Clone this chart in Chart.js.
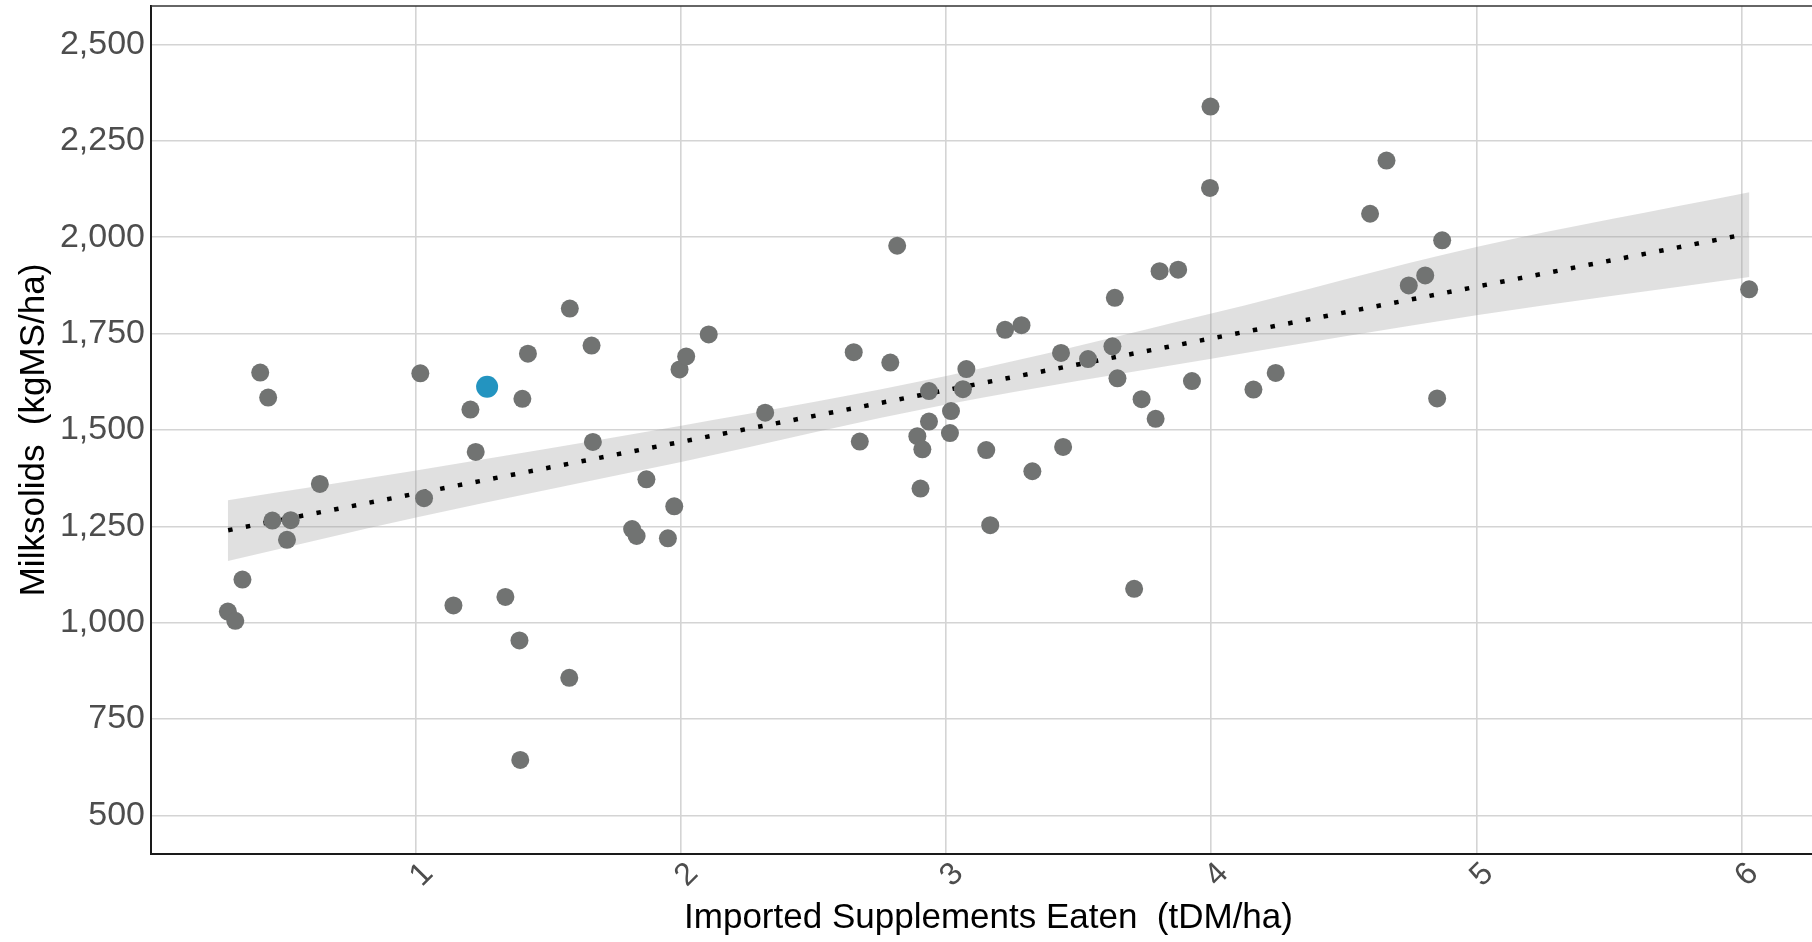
<!DOCTYPE html>
<html>
<head>
<meta charset="utf-8">
<script src="https://cdn.jsdelivr.net/npm/chart.js@4.4.1/dist/chart.umd.min.js"></script>
<style>
  html, body { margin: 0; padding: 0; background: #ffffff; overflow: hidden; }
  #wrap { width: 1812px; height: 942px; position: relative; overflow: hidden; }
  #c { position: absolute; left: 0; top: 0; }
</style>
</head>
<body>
<div id="wrap"><canvas id="c" width="1826" height="942"></canvas></div>
<script>
// ---- Data ----
const supplementsEaten = [
  0.290, 0.318, 0.345, 0.412, 0.442, 0.458, 0.527, 0.513, 0.637,
  1.016, 1.030, 1.141, 1.205, 1.225, 1.337, 1.390, 1.393, 1.401, 1.422,
  1.580, 1.578, 1.662, 1.667, 1.815, 1.832, 1.869, 1.950, 1.974, 1.994,
  2.019, 2.104, 2.317, 2.651, 2.674, 2.789, 2.815, 2.891, 2.910, 2.903,
  2.935, 2.935, 3.018, 3.014, 3.063, 3.076, 3.151, 3.166, 3.222, 3.284,
  3.325, 3.433, 3.441, 3.535, 3.627, 3.636, 3.646, 3.709, 3.737, 3.790,
  3.805, 3.875, 3.927, 3.997, 3.995, 4.159, 4.243, 4.599, 4.661, 4.745,
  4.807, 4.852, 4.871, 6.029
];
const milksolids = [
  1029, 1005, 1112, 1649, 1584, 1265, 1266, 1215, 1360,
  1647, 1323, 1045, 1553, 1443, 1067, 954, 644, 1581, 1698,
  1815, 857, 1719, 1469, 1243, 1225, 1372, 1219, 1302, 1657,
  1691, 1748, 1545, 1702, 1470, 1675, 1978, 1484, 1450, 1348,
  1601, 1522, 1549, 1492, 1606, 1658, 1448, 1253, 1760, 1772,
  1393, 1700, 1456, 1684, 1717, 1843, 1634, 1088, 1580, 1529,
  1912, 1916, 1627, 2339, 2128, 1605, 1648, 2061, 2199, 1875,
  1901, 1582, 1992, 1865
];
const highlightX = [1.268];
const highlightY = [1612];

const trendX = [0.291, 6.023];
const trendY = [1240, 2009];

const bandX     = [0.29, 1, 2, 3, 4, 5, 6.03];
const bandUpper = [1318, 1395, 1511, 1640, 1802, 1975, 2117];
const bandLower = [1160, 1273, 1417, 1566, 1685, 1798, 1897];

const xTicks = [1, 2, 3, 4, 5, 6];
const yTicks = [500, 750, 1000, 1250, 1500, 1750, 2000, 2250, 2500];

const xTitle = 'Imported Supplements Eaten  (tDM/ha)';
const yTitle = 'Milksolids  (kgMS/ha)';

// ---- Build datasets ----
const zip = (xs, ys) => xs.map((x, i) => ({ x: x, y: ys[i] }));

const FONT = "'Liberation Sans', Arial, sans-serif";

const topBorder = {
  id: 'topBorder',
  afterDraw(chart) {
    const { ctx, chartArea } = chart;
    ctx.save();
    ctx.strokeStyle = '#333333';
    ctx.lineWidth = 1.5;
    ctx.beginPath();
    ctx.moveTo(chartArea.left, chartArea.top);
    ctx.lineTo(chartArea.right, chartArea.top);
    ctx.stroke();
    ctx.restore();
  }
};

new Chart(document.getElementById('c'), {
  type: 'scatter',
  data: {
    datasets: [
      {
        label: 'highlight',
        data: zip(highlightX, highlightY),
        backgroundColor: '#2394c0',
        borderColor: '#2394c0',
        borderWidth: 0,
        pointRadius: 11,
        order: 0
      },
      {
        label: 'farms',
        data: zip(supplementsEaten, milksolids),
        backgroundColor: '#717372',
        borderColor: '#717372',
        borderWidth: 0,
        pointRadius: 9,
        order: 1
      },
      {
        label: 'trend',
        type: 'line',
        data: zip(trendX, trendY),
        borderColor: '#000000',
        borderWidth: 4.5,
        borderDash: [4.5, 13.5],
        borderCapStyle: 'butt',
        pointRadius: 0,
        fill: false,
        order: 2
      },
      {
        label: 'lower',
        type: 'line',
        data: zip(bandX, bandLower),
        borderWidth: 0,
        borderColor: 'rgba(0,0,0,0)',
        pointRadius: 0,
        cubicInterpolationMode: 'monotone',
        fill: false,
        order: 4
      },
      {
        label: 'upper',
        type: 'line',
        data: zip(bandX, bandUpper),
        borderWidth: 0,
        borderColor: 'rgba(0,0,0,0)',
        backgroundColor: 'rgba(153,153,153,0.30)',
        pointRadius: 0,
        cubicInterpolationMode: 'monotone',
        fill: '-1',
        order: 3
      }
    ]
  },
  options: {
    responsive: false,
    animation: false,
    devicePixelRatio: 1,
    layout: { autoPadding: false, padding: { top: 6, right: 0, bottom: 0, left: 0 } },
    plugins: {
      legend: { display: false },
      tooltip: { enabled: false },
      filler: { propagate: false }
    },
    scales: {
      x: {
        type: 'linear',
        min: 0,
        max: 6.319,
        afterBuildTicks: (s) => { s.ticks = xTicks.map(v => ({ value: v })); },
        afterFit: (s) => {
          s.height = 88;
          s.paddingLeft = 0; s.paddingRight = 0;
          s.paddingTop = 0; s.paddingBottom = 0;
        },
        grid: { color: '#d4d4d4', lineWidth: 1.6, drawTicks: false },
        border: { display: true, color: '#1a1a1a', width: 2 },
        ticks: {
          minRotation: 45, maxRotation: 45,
          padding: 1,
          labelOffset: 12,
          color: '#4d4d4d',
          font: { family: FONT, size: 32 },
          callback: (v) => String(v)
        },
        title: {
          display: true,
          text: xTitle,
          color: '#000000',
          font: { family: FONT, size: 35, lineHeight: 1.2 },
          padding: { top: 0, bottom: 2.5 }
        }
      },
      y: {
        type: 'linear',
        min: 400,
        max: 2600,
        afterBuildTicks: (s) => { s.ticks = yTicks.map(v => ({ value: v })); },
        afterFit: (s) => {
          s.width = 151;
          s.paddingLeft = 0; s.paddingRight = 0;
          s.paddingTop = 0; s.paddingBottom = 0;
        },
        grid: { color: '#d4d4d4', lineWidth: 1.6, drawTicks: false },
        border: { display: true, color: '#1a1a1a', width: 2 },
        ticks: {
          padding: 6,
          color: '#4d4d4d',
          font: { family: FONT, size: 34 },
          callback: (v) => v.toLocaleString('en-US')
        },
        title: {
          display: true,
          text: yTitle,
          color: '#000000',
          font: { family: FONT, size: 35, lineHeight: 1.2 },
          padding: { top: 13, bottom: 0 }
        }
      }
    }
  },
  plugins: [topBorder]
});
</script>
</body>
</html>
